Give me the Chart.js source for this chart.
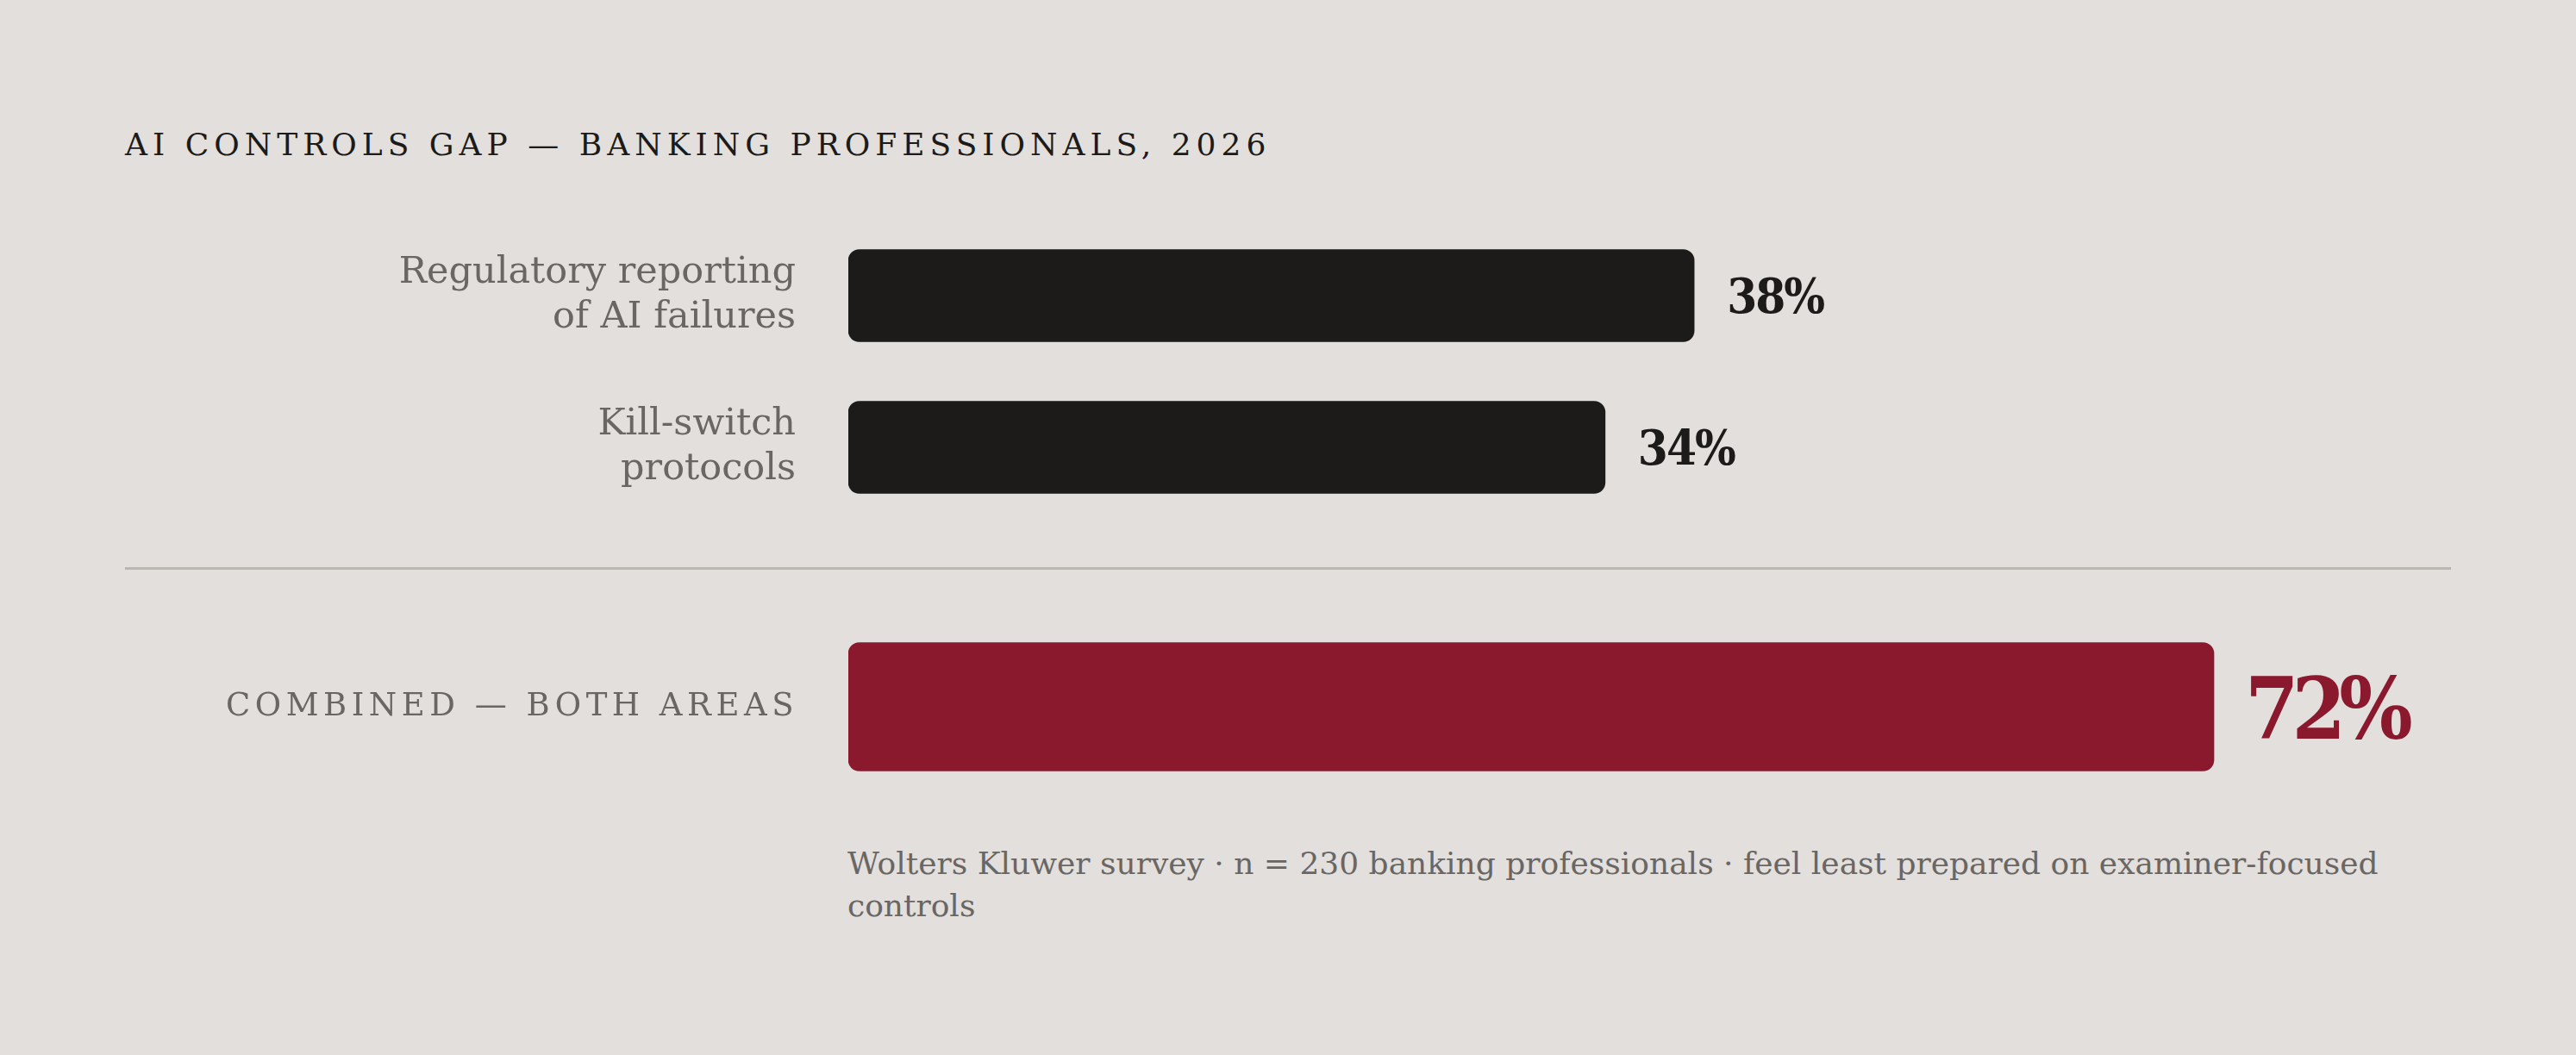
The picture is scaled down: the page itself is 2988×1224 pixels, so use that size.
<!DOCTYPE html>
<html><head><meta charset="utf-8">
<script src="https://cdn.jsdelivr.net/npm/chart.js@4"></script>
<style>
html,body{margin:0;padding:0;background:#E2DFDC;width:2988px;height:1224px;overflow:hidden;}
#title{position:absolute;left:145px;top:150px;font:36px 'DejaVu Serif';letter-spacing:6px;color:#1C1B19;line-height:36px;white-space:nowrap;}
#rule{position:absolute;left:145px;top:658px;width:2698px;height:3px;background:#BAB6B2;}
#note{position:absolute;left:983px;top:977px;font:36px 'DejaVu Serif';line-height:49px;color:#6A6663;white-space:nowrap;}
.wrap{position:absolute;left:0;width:2988px;}
</style></head><body>
<div id="title"></div>
<div class="wrap" style="top:255px;height:352px"><canvas id="c1"></canvas></div>
<div id="rule"></div>
<div class="wrap" style="top:720px;height:200px"><canvas id="c2"></canvas></div>
<div id="note"></div>
<script>
const titleText = 'AI CONTROLS GAP — BANKING PROFESSIONALS, 2026';
const areaLabels = [['Regulatory reporting','of AI failures'],['Kill-switch','protocols']];
const areaValues = [38, 34];
const combinedLabels = ['COMBINED — BOTH AREAS'];
const combinedValues = [72];
const noteLines = ['Wolters Kluwer survey · n = 230 banking professionals · feel least prepared on examiner-focused','controls'];

document.getElementById('title').textContent = titleText;
const note = document.getElementById('note');
noteLines.forEach((l,i)=>{ if(i) note.appendChild(document.createElement('br')); note.appendChild(document.createTextNode(l)); });

const valueLabels = {
  id:'valueLabels',
  beforeDraw(chart, args, opts){ chart.ctx.letterSpacing = opts.tickSpacing || '0px'; },
  afterDatasetsDraw(chart, args, opts){
    const ctx = chart.ctx, meta = chart.getDatasetMeta(0), data = chart.data.datasets[0].data;
    ctx.save();
    ctx.letterSpacing = opts.spacing || '0px';
    ctx.font = opts.font; ctx.fillStyle = opts.color;
    ctx.textAlign = 'left'; ctx.textBaseline = 'alphabetic';
    meta.data.forEach((bar,i)=>{ ctx.fillText(data[i] + '%', bar.x + opts.gap, bar.y + opts.dy); });
    ctx.restore();
  },
  afterDraw(chart){ chart.ctx.letterSpacing = '0px'; }
};

function makeChart(id, labels, values, opt){
  return new Chart(document.getElementById(id), {
    type:'bar',
    data:{ labels, datasets:[{ data: values, backgroundColor: opt.color, barThickness: opt.thick, borderRadius: 13, borderSkipped: false }] },
    options:{
      indexAxis:'y', responsive:true, maintainAspectRatio:false, animation:false,
      layout:{ padding:{ left:0, right:145, top:0, bottom:0 } },
      plugins:{ legend:{display:false}, tooltip:{enabled:false}, valueLabels: opt.vl },
      scales:{
        x:{ display:false, min:0, max:opt.max },
        y:{ grid:{display:false, drawTicks:false}, border:{display:false},
            ticks:{ padding: opt.pad, color:'#6A6663', font:{ family:'DejaVu Serif', size: opt.tickSize, lineHeight: opt.lh } },
            afterFit(s){ s.width = 984; s.paddingTop = 0; s.paddingBottom = 0; } }
      }
    },
    plugins:[valueLabels]
  });
}

makeChart('c1', areaLabels, areaValues, {
  color:'#1C1B19', thick:107, max:72, pad:61, tickSize:43, lh:1.21,
  vl:{ font:'bold 56px "DejaVu Serif Condensed", "DejaVu Serif"', color:'#1C1B19', gap:38, dy:20, spacing:'-2px' }
});
makeChart('c2', combinedLabels, combinedValues, {
  color:'#8A192E', thick:149, max:84.5, pad:58, tickSize:37, lh:1.2,
  vl:{ font:'bold 100px "DejaVu Serif Condensed", "DejaVu Serif"', color:'#8A192E', gap:36, dy:37, spacing:'-8px', tickSpacing:'5.5px' }
});
</script>
</body></html>
